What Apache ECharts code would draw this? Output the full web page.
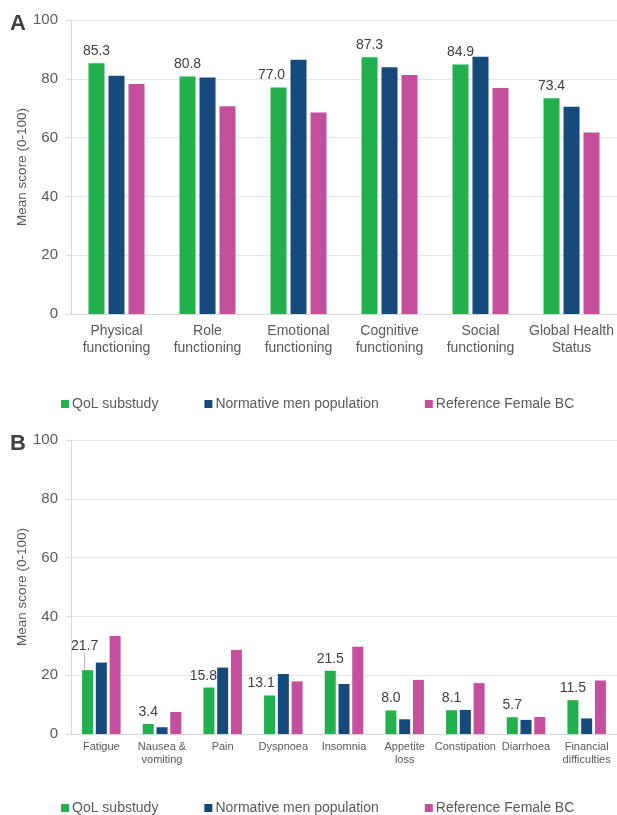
<!DOCTYPE html>
<html>
<head>
<meta charset="utf-8">
<script src="https://cdn.jsdelivr.net/npm/echarts@6/dist/echarts.min.js"></script>
<style>html,body{margin:0;padding:0;background:#fff}#c{width:617px;height:815px}</style>
</head>
<body>
<div id="c"></div>
<script>
var seriesNames = ['QoL substudy', 'Normative men population', 'Reference Female BC'];

var categoriesA = ['Physical\nfunctioning', 'Role\nfunctioning', 'Emotional\nfunctioning', 'Cognitive\nfunctioning', 'Social\nfunctioning', 'Global Health\nStatus'];
var qolA = [85.3, 80.8, 77.0, 87.3, 84.9, 73.4];
var normA = [81.0, 80.4, 86.5, 83.9, 87.5, 70.5];
var refA = [78.2, 70.7, 68.5, 81.3, 76.9, 61.7];

var categoriesB = ['Fatigue', 'Nausea &\nvomiting', 'Pain', 'Dyspnoea', 'Insomnia', 'Appetite\nloss', 'Constipation', 'Diarrhoea', 'Financial\ndifficulties'];
var qolB = [21.7, 3.4, 15.8, 13.1, 21.5, 8.0, 8.1, 5.7, 11.5];
var normB = [24.3, 2.3, 22.6, 20.4, 17.0, 5.0, 8.2, 4.8, 5.3];
var refB = [33.3, 7.5, 28.6, 17.9, 29.7, 18.4, 17.3, 5.8, 18.2];

var yTicks = [0, 20, 40, 60, 80, 100];

// label placement tweaks (style, not data)
var labelShiftA = {2: [-7, 0]};
var labelShiftB = {0: [-3, -12], 2: [-5.5, 1], 3: [-8.5, 0]};

var FONT = '"Liberation Sans", Arial, sans-serif';
var colors = ['#21b04c', '#16497c', '#c44f9d'];
var gray = '#595959';

function yAxis(gi) {
  return {
    gridIndex: gi, type: 'value', min: yTicks[0], max: yTicks[yTicks.length - 1], interval: 20,
    name: 'Mean score (0-100)', nameLocation: 'middle', nameGap: 42, nameMoveOverlap: false,
    nameTextStyle: {color: gray, fontSize: 13.5, fontFamily: FONT},
    axisLine: {show: true, lineStyle: {color: '#d9d9d9'}},
    axisTick: {show: true, length: 5, lineStyle: {color: '#d9d9d9'}},
    axisLabel: {color: gray, fontSize: 15, fontFamily: FONT, margin: 13},
    splitLine: {show: true, lineStyle: {color: '#e6e6e6'}}
  };
}
function xAxis(gi, cats, fs, lh, margin) {
  return {
    gridIndex: gi, type: 'category', data: cats,
    axisLine: {show: true, lineStyle: {color: '#d9d9d9'}},
    axisTick: {show: false},
    axisLabel: {color: gray, fontSize: fs, lineHeight: lh, fontFamily: FONT, margin: margin, interval: 0}
  };
}
function bar(name, idx, data, gi, bw, labelled, shifts) {
  var s = {
    name: name, type: 'bar', xAxisIndex: gi, yAxisIndex: gi,
    barWidth: bw, barGap: '25%',
    itemStyle: {color: colors[idx]},
    data: data.slice()
  };
  if (labelled) {
    s.label = {show: true, position: 'top', distance: 5, color: '#404040', fontSize: 14, fontFamily: FONT,
      formatter: function (p) { return Number(p.value).toFixed(1); }};
    s.labelLayout = function (p) {
      var sh = shifts[p.dataIndex];
      if (sh) return {dx: sh[0], dy: sh[1]};
      return {};
    };
    if (gi === 1) {
      s.data = data.map(function (v, i) {
        return i === 0 ? {value: v, labelLine: {show: true, lineStyle: {color: '#a6a6a6', width: 0.8}}} : v;
      });
    }
  }
  return s;
}
function legend(top) {
  return {
    top: top, left: 56, itemWidth: 8, itemHeight: 8, itemGap: 46, icon: 'rect',
    textStyle: {color: gray, fontSize: 14, fontFamily: FONT, padding: [0, 0, 0, -2]},
    data: seriesNames
  };
}

var chart = echarts.init(document.getElementById('c'), null, {renderer: 'canvas'});
chart.setOption({
  animation: false,
  backgroundColor: '#fff',
  grid: [
    {left: 71, right: 0, top: 20, height: 294},
    {left: 71, right: 0, top: 440, height: 294}
  ],
  xAxis: [xAxis(0, categoriesA, 14, 17, 9), xAxis(1, categoriesB, 11, 13, 6)],
  yAxis: [yAxis(0), yAxis(1)],
  legend: [legend(392), legend(796)],
  graphic: [
    {type: 'text', left: 10, top: 13, style: {text: 'A', fill: '#404040', font: 'bold 22px ' + FONT}},
    {type: 'text', left: 10, top: 433, style: {text: 'B', fill: '#404040', font: 'bold 22px ' + FONT}}
  ],
  series: [
    bar(seriesNames[0], 0, qolA, 0, 16, true, labelShiftA),
    bar(seriesNames[1], 1, normA, 0, 16, false),
    bar(seriesNames[2], 2, refA, 0, 16, false),
    bar(seriesNames[0], 0, qolB, 1, 11, true, labelShiftB),
    bar(seriesNames[1], 1, normB, 1, 11, false),
    bar(seriesNames[2], 2, refB, 1, 11, false)
  ]
});
</script>
</body>
</html>
